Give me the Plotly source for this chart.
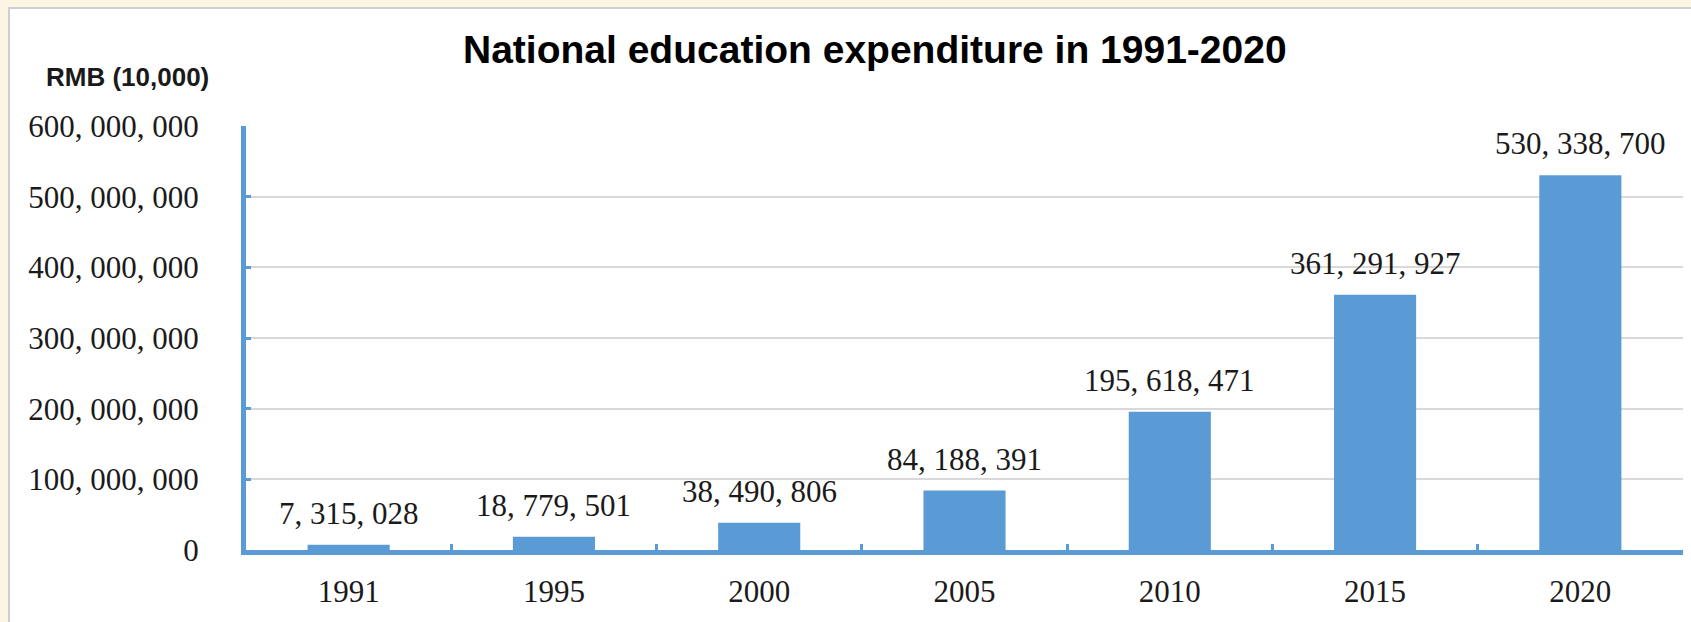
import plotly.graph_objects as go

# National education expenditure, RMB (10,000)
years = ["1991", "1995", "2000", "2005", "2010", "2015", "2020"]
expenditure = [7315028, 18779501, 38490806, 84188391, 195618471, 361291927, 530338700]

y_ticks = [0, 100000000, 200000000, 300000000, 400000000, 500000000, 600000000]


def spaced(n):
    # thousands grouped with ", " as in the source table
    return f"{n:,}".replace(",", ", ")


W, H = 1691, 622
M_L, M_R, M_T, M_B = 246, 8, 126, 72
PW, PH = W - M_L - M_R, H - M_T - M_B


def px_x(p):
    return (p - M_L) / PW


def px_y(p):
    return (H - M_B - p) / PH


AXIS_BLUE = "#5b9bd5"
SERIF = "Liberation Serif, Times New Roman, serif"
SANS = "Liberation Sans, Arial, sans-serif"

fig = go.Figure(
    go.Bar(
        x=years,
        y=expenditure,
        marker=dict(color=AXIS_BLUE, line=dict(width=0)),
        hoverinfo="skip",
    )
)

# value labels above each bar (category index keeps numeric-looking names intact)
for i, v in enumerate(expenditure):
    fig.add_annotation(
        x=i, y=v, text=spaced(v), showarrow=False,
        yanchor="bottom", yshift=12,
        font=dict(family=SERIF, size=31, color="#1a1a1a"),
    )

# chart title and unit label
fig.add_annotation(
    xref="paper", yref="paper", x=px_x(875), y=px_y(50),
    text="<b>National education expenditure in 1991-2020</b>",
    showarrow=False, xanchor="center", yanchor="middle",
    font=dict(family=SANS, size=39, color="#000000"),
)
fig.add_annotation(
    xref="paper", yref="paper", x=px_x(127), y=px_y(77),
    text="<b>RMB (10,000)</b>",
    showarrow=False, xanchor="center", yanchor="middle",
    font=dict(family=SANS, size=26, color="#1a1a1a"),
)

# white card with a thin grey frame on the cream page
fig.add_shape(
    type="rect", xref="paper", yref="paper", layer="below",
    x0=px_x(9), x1=px_x(W + 20), y0=px_y(H + 20), y1=px_y(8),
    fillcolor="#ffffff", line=dict(color="#cfcfcf", width=2),
)

fig.update_layout(
    width=W, height=H,
    margin=dict(l=M_L, r=M_R, t=M_T, b=M_B, pad=0),
    paper_bgcolor="#fdf5e4",
    plot_bgcolor="#ffffff",
    bargap=0.6,
    showlegend=False,
)

fig.update_xaxes(
    type="category",
    categoryorder="array", categoryarray=years,
    range=[-0.5, len(years) - 0.5],
    showline=True, linecolor=AXIS_BLUE, linewidth=5,
    ticks="inside", tickson="boundaries", ticklen=6, tickwidth=3, tickcolor=AXIS_BLUE,
    tickfont=dict(family=SERIF, size=31, color="#1a1a1a"),
    tickangle=0,
    ticklabelstandoff=10,
    showgrid=False, zeroline=False,
)
fig.update_yaxes(
    range=[0, 600000000],
    tickmode="array", tickvals=y_ticks, ticktext=[spaced(v) for v in y_ticks],
    showline=True, linecolor=AXIS_BLUE, linewidth=5,
    ticks="inside", ticklen=5, tickwidth=3, tickcolor=AXIS_BLUE,
    tickfont=dict(family=SERIF, size=31, color="#1a1a1a"),
    ticklabelstandoff=36,
    showgrid=True, gridcolor="#d9d9d9", gridwidth=1.5,
    zeroline=False,
)

fig.write_html("out.html")
